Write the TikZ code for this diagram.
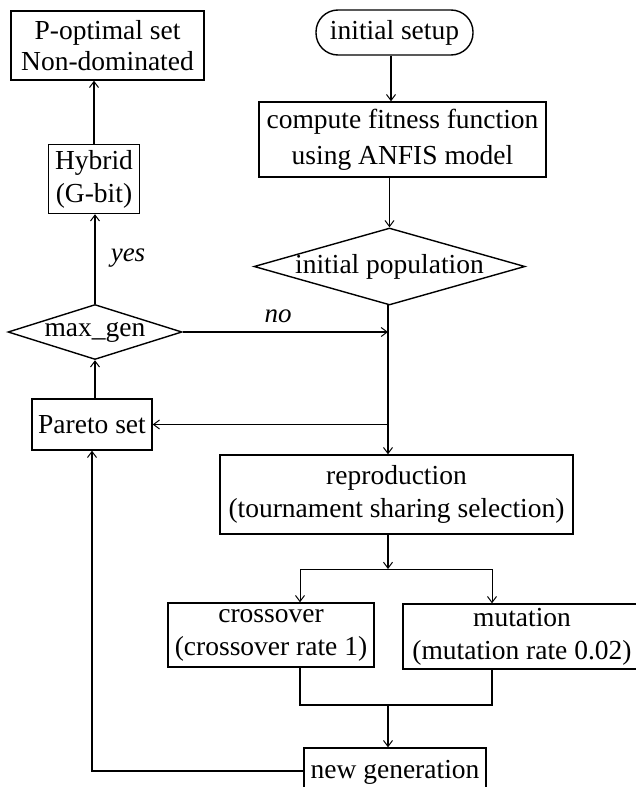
\documentclass[tikz,border=0pt]{standalone}
\usepackage{fontspec}
\setmainfont{Liberation Serif}
\usetikzlibrary{shapes.geometric,arrows.meta}
\begin{document}
\begin{tikzpicture}[x=1pt,y=-1pt,
  font=\fontsize{27.5}{33}\selectfont,
  line width=1.4pt,
  >={Straight Barb[length=6pt,width=9pt,line width=1pt]},
  box/.style={draw,rectangle,inner sep=0pt,align=center},
  dia/.style={draw,diamond,inner sep=0pt},
  term/.style={draw,rectangle,rounded corners=22pt,inner sep=0pt,align=center},
  lab/.style={font=\fontsize{27}{33}\selectfont\itshape}]
\useasboundingbox (0,0) rectangle (636,787);
\clip (0,0) rectangle (636,787);
\fill[white] (0,0) rectangle (636,787);
% nodes
\node[box,minimum width=193pt,minimum height=69pt] (popt) at (107.5,45.5) {P-optimal set\\[-2pt]Non-dominated};
\node[box,minimum width=91pt,minimum height=69pt] (hybrid) at (94,179) {Hybrid\\(G-bit)};
\node[dia,minimum width=174pt,minimum height=55pt,label={center:max\_gen}] (maxgen) at (95,332) {};
\node[box,minimum width=120pt,minimum height=51pt] (pareto) at (92,424.5) {Pareto set};
\node[term,minimum width=157pt,minimum height=45pt] (setup) at (394.5,32.5) {initial setup};
\node[box,minimum width=287pt,minimum height=75pt] (compute) at (402.5,139.5) {compute fitness function\\[3pt]using ANFIS model};
\node[dia,minimum width=271pt,minimum height=77pt,label={center:initial population}] (initpop) at (389.5,266.5) {};
\node[box,minimum width=353pt,minimum height=79pt] (repro) at (396.5,494.5) {reproduction\\(tournament sharing selection)};
\node[box,minimum width=206pt,minimum height=64pt] (cross) at (271,635) {crossover\\(crossover rate 1)};
\node[box,minimum width=238pt,minimum height=65pt] (mut) at (522,636.5) {mutation\\(mutation rate 0.02)};
\node[box,minimum width=182pt,minimum height=48pt] (newgen) at (395,772) {new generation};
% labels
\node[lab] (yes) at (128,258) {yes};
\node[lab] (no) at (278,316) {no};
% coordinates
\coordinate (j1) at (388,569);
\coordinate (jc) at (300,569);
\coordinate (jm) at (492,569);
\coordinate (kc) at (300,705);
\coordinate (km) at (492,705);
\coordinate (k1) at (388,705);
\coordinate (back) at (92,771);
% connectors
\draw[->] (setup.south -| 391,0) -- (compute.north -| 391,0);
\draw[->,line width=1pt] (compute.south -| initpop.north) -- (initpop.north);
\draw[->] (388,305) coordinate (ip) -- (repro.north -| ip);
\draw[->] (maxgen.east) -- (maxgen.east -| ip);
\draw[->] (pareto.east -| ip) -- (pareto.east);
\draw[->] (maxgen.north) -- (maxgen.north |- hybrid.south);
\draw[->] (hybrid.north) -- (hybrid.north |- popt.south);
\draw[->] (maxgen.south |- pareto.north) -- (maxgen.south);
\draw[->] (j1 |- repro.south) -- (j1);
\draw[line width=1pt] (jc) -- (jm);
\draw[->,line width=1pt] (jc) -- (jc |- cross.north);
\draw[->,line width=1pt] (jm) -- (jm |- mut.north);
\draw (jc |- cross.south) -- (kc) -- (km) -- (km |- mut.south);
\draw[->] (k1) -- (k1 |- newgen.north);
\draw[->] (newgen.west |- back) -- (back) -- (back |- pareto.south);
\end{tikzpicture}
\end{document}
